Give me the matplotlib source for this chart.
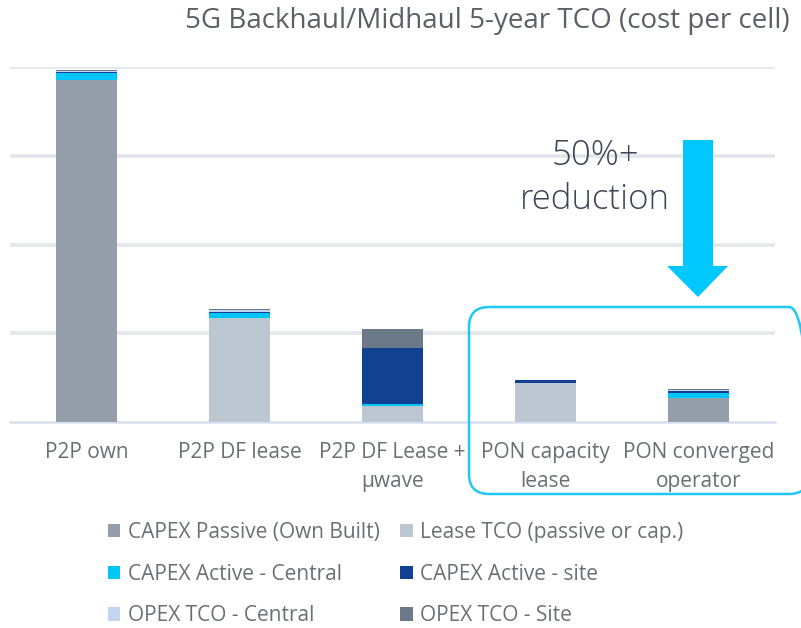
import numpy as np
import matplotlib.pyplot as plt
from matplotlib.patches import FancyBboxPatch, Polygon

categories = ["P2P own", "P2P DF lease", "P2P DF Lease +\nµwave",
              "PON capacity\nlease", "PON converged\noperator"]

series_names = ["CAPEX Passive (Own Built)", "Lease TCO (passive or cap.)",
                "CAPEX Active - Central", "CAPEX Active - site",
                "OPEX TCO - Central", "OPEX TCO - Site"]

# stacked values, bottom to top (grid units)
capex_passive = [3.86, 0.0, 0.0, 0.0, 0.27]
lease_tco = [0.0, 1.17, 0.18, 0.44, 0.0]
capex_active_central = [0.076, 0.057, 0.023, 0.0, 0.057]
capex_active_site = [0.010, 0.011, 0.63, 0.03, 0.019]
opex_central = [0.008, 0.023, 0.0, 0.0, 0.011]
opex_site = [0.012, 0.016, 0.215, 0.005, 0.011]

colors = ["#959fab", "#bcc7d1", "#00c5f7", "#124191", "#c3d5f2", "#6c7988"]

plt.rcParams["font.family"] = ["Open Sans", "DejaVu Sans"]

fig = plt.figure(figsize=(8.01, 6.28), dpi=100)
W, H = 801, 628
ax = fig.add_axes([10 / W, 1 - 422 / H, 765 / W, (422 - 67.3) / H])

x = np.arange(len(categories))
bottom = np.zeros(len(categories))
stack = [capex_passive, lease_tco, capex_active_central,
         capex_active_site, opex_central, opex_site]
for vals, name, c in zip(stack, series_names, colors):
    vals = np.asarray(vals)
    ax.bar(x, vals, width=0.4, bottom=bottom, color=c, label=name, zorder=3)
    bottom += vals

ax.set_xlim(-0.5, 4.5)
ax.set_ylim(0, 4)
ax.set_yticks([1, 2, 3, 4])
ax.yaxis.grid(True, color="#e4e6e9", linewidth=2.6, zorder=0)
ax.tick_params(axis="y", left=False, labelleft=False)
ax.tick_params(axis="x", bottom=False, pad=11, labelsize=15, labelcolor="#6b6f75")
ax.set_xticks(x)
ax.set_xticklabels(categories, linespacing=1.5)
for s in ["left", "right", "top"]:
    ax.spines[s].set_visible(False)
ax.spines["bottom"].set_color("#d6e0f0")
ax.spines["bottom"].set_linewidth(1.8)

fig.text(790 / W, 1 - 21 / H, "5G Backhaul/Midhaul 5-year TCO (cost per cell)",
         ha="right", va="center", fontsize=20, color="#5b5f66")

# highlight box around PON bars
box = FancyBboxPatch((469, H - 494), 340, 187, boxstyle="round,pad=0,rounding_size=20",
                     transform=None, fill=False, edgecolor="#1ec8f2", linewidth=1.8,
                     clip_on=False)
fig.patches.append(box)

# down arrow
arrow = Polygon([(683, H - 140), (713, H - 140), (713, H - 266), (728, H - 266),
                 (698, H - 297), (667, H - 266), (683, H - 266)],
                closed=True, transform=None, facecolor="#00c8ff", edgecolor="none")
fig.patches.append(arrow)

fig.text(595 / W, 1 - 178 / H, "50%+\nreduction", ha="center", va="center",
         fontsize=25, color="#3b4657", linespacing=1.35, fontweight="light")

handles, labels = ax.get_legend_handles_labels()
order = [0, 2, 4, 1, 3, 5]
fig.legend([handles[i] for i in order], [labels[i] for i in order], ncol=2,
           loc="upper left", bbox_to_anchor=(89 / W, 1 - 503 / H), frameon=False,
           fontsize=15, labelcolor="#6b6f75", handlelength=0.6, handleheight=0.6,
           handletextpad=0.35, columnspacing=1.0, labelspacing=1.0)

fig.savefig("out.png", dpi=100)
